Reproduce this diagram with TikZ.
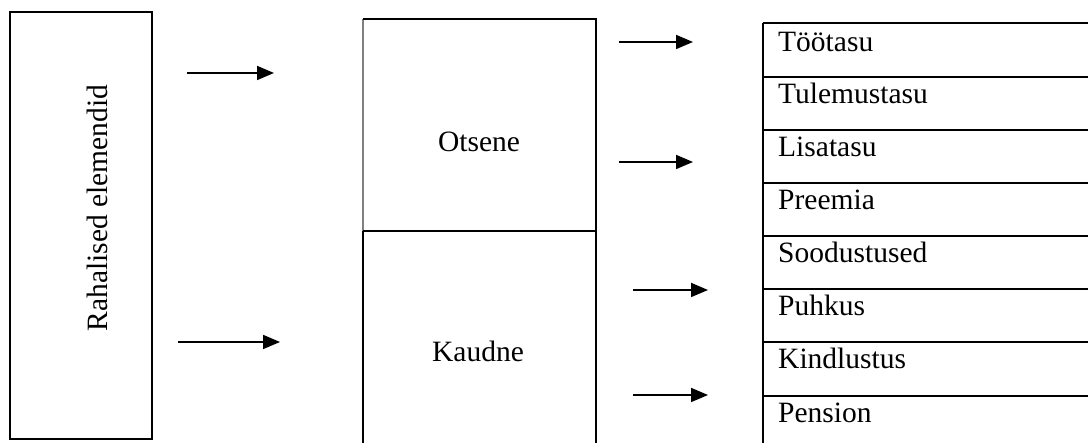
\documentclass[tikz,border=0pt]{standalone}
\usepackage{fontspec}
\setmainfont{Liberation Serif}
\usetikzlibrary{arrows.meta}
\begin{document}
\begin{tikzpicture}[x=1pt,y=-1pt,
  thick line/.style={line width=2.2pt},
  thin line/.style={line width=1.2pt},
  conn/.style={line width=1.8pt,-{Triangle[length=17pt,width=14pt]}},
  lbl/.style={font=\fontsize{29.5}{34}\selectfont,inner sep=0pt},
  rowlbl/.style={lbl,anchor=base west}]
\useasboundingbox (0,0) rectangle (1088,443);
\fill[white] (0,0) rectangle (1088,443);
% left box
\draw[thick line] (10,12) rectangle (152,439);
\node[lbl,rotate=90,anchor=base] (rah) at (107,208) {Rahalised elemendid};
% middle box
\draw[line width=1.2pt,gray] (363,19) -- (363,231);
\draw[thick line] (363,231) -- (363,443);
\draw[thin line] (363,19) -- (596,19) -- (596,443);
\draw[thick line] (363,231) -- (596,231);
\node[lbl,anchor=base] (ots) at (479,152) {Otsene};
\node[lbl,anchor=base] (kau) at (478,362) {Kaudne};
% table
\draw[thin line] (763,23) -- (763,396);
\draw[thick line] (763,396) -- (763,443);
\draw[thin line] (763,23) -- (1088,23);
\foreach \yy in {77,130,183,236,342,396} \draw[thick line] (763,\yy) -- (1088,\yy);
\draw[thin line] (763,289) -- (1088,289);
\node[rowlbl] (r1) at (778,52) {Töötasu};
\node[rowlbl] (r2) at (778,104) {Tulemustasu};
\node[rowlbl] (r3) at (778,157) {Lisatasu};
\node[rowlbl] (r4) at (778,210) {Preemia};
\node[rowlbl] (r5) at (778,263) {Soodustused};
\node[rowlbl] (r6) at (778,316) {Puhkus};
\node[rowlbl] (r7) at (778,369) {Kindlustus};
\node[rowlbl] (r8) at (778,423) {Pension};
% arrows
\coordinate (a1s) at (187,73);  \coordinate (a1e) at (274,73);
\coordinate (a2s) at (178,342); \coordinate (a2e) at (280,342);
\coordinate (a3s) at (619,42);  \coordinate (a3e) at (693,42);
\coordinate (a4s) at (619,162); \coordinate (a4e) at (693,162);
\coordinate (a5s) at (633,290); \coordinate (a5e) at (708,290);
\coordinate (a6s) at (633,395); \coordinate (a6e) at (708,395);
\foreach \i in {1,...,6} \draw[conn] (a\i s) -- (a\i e);
\end{tikzpicture}
\end{document}
